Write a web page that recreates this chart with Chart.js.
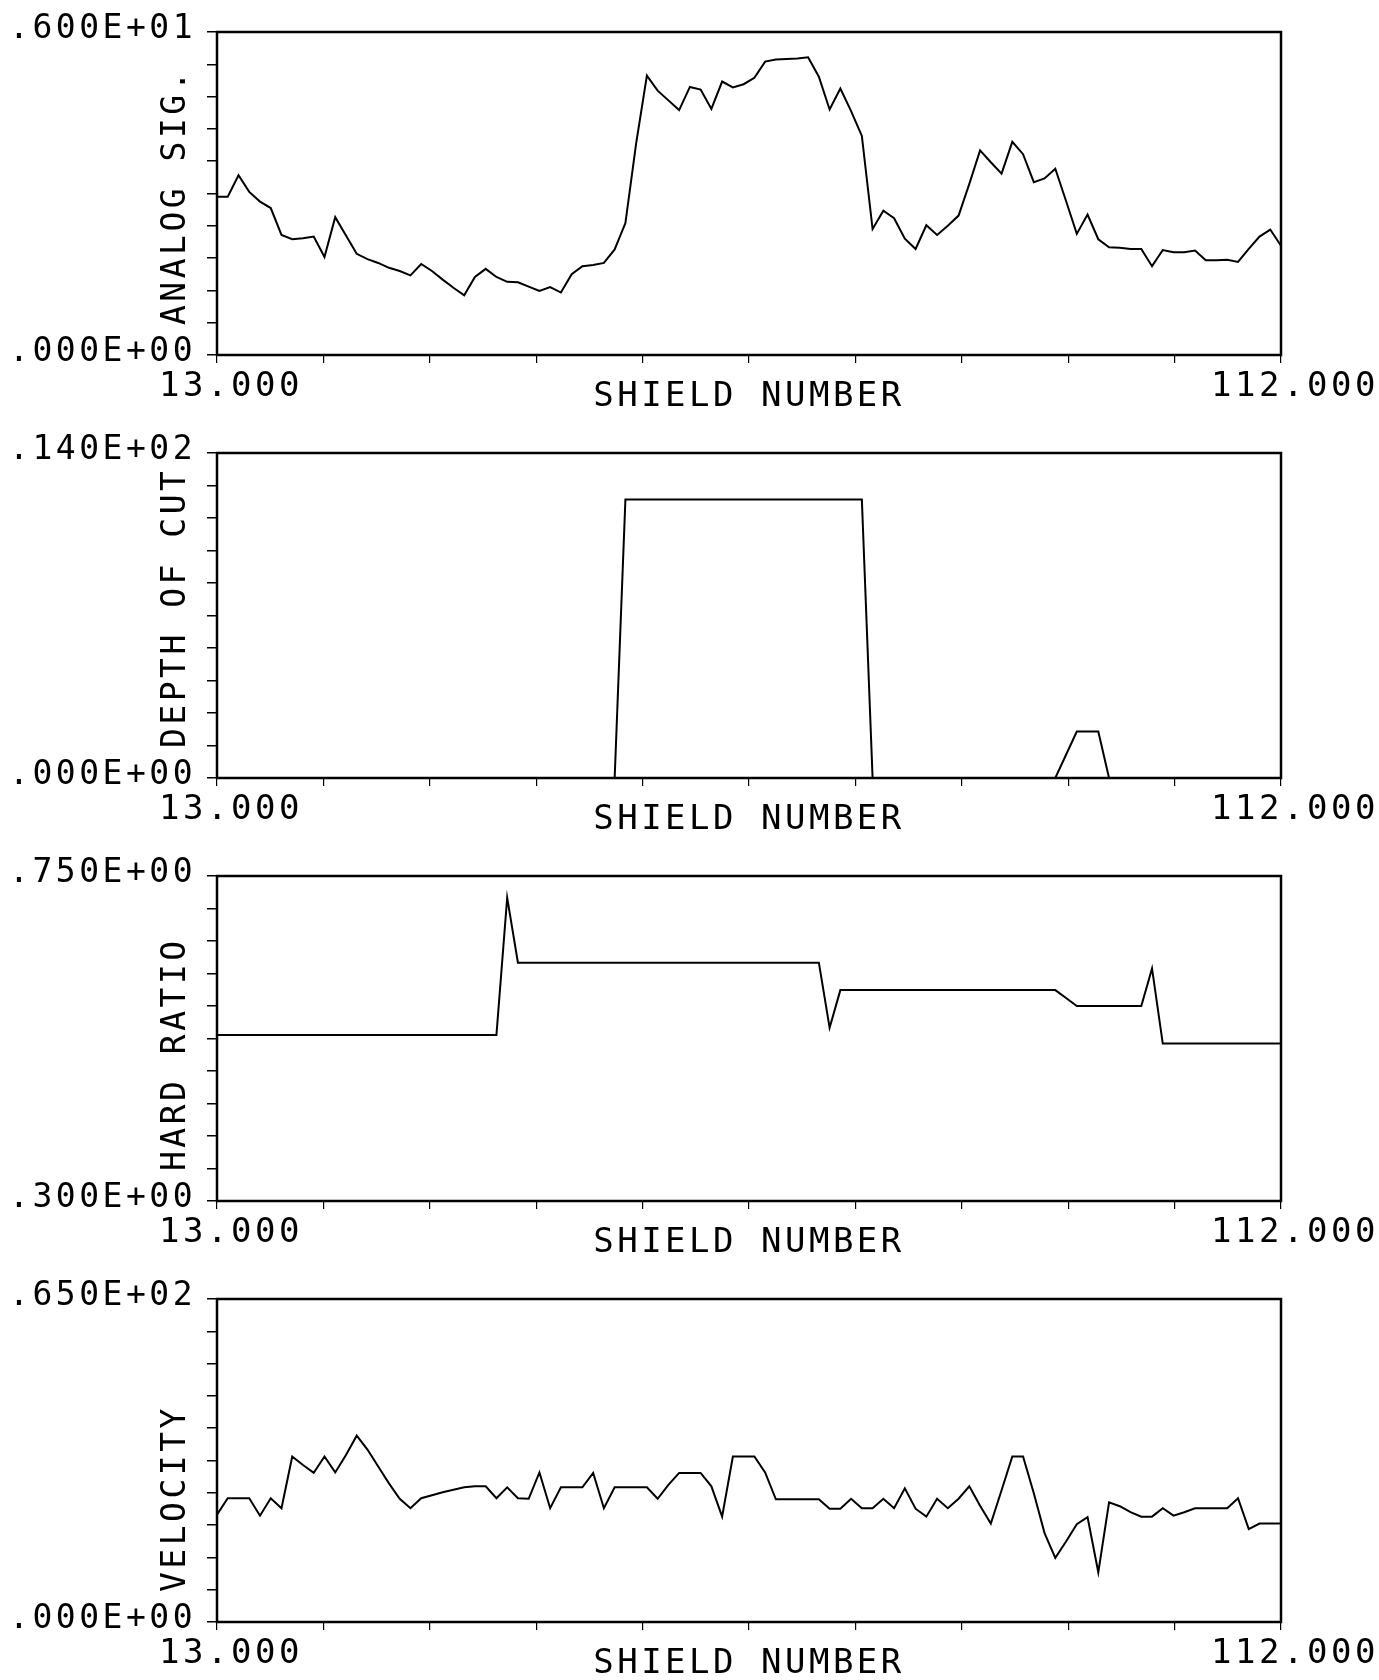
<!DOCTYPE html>
<html>
<head>
<meta charset="utf-8">
<title>Shield plots</title>
<script src="https://cdn.jsdelivr.net/npm/chart.js@4.4.1/dist/chart.umd.min.js"></script>
<style>
  html, body { margin: 0; padding: 0; background: #fff; }
  body { width: 1379px; height: 1680px; overflow: hidden; position: relative; }
  canvas { position: absolute; left: 0; }
</style>
</head>
<body>
<canvas id="analog" width="1379" height="422" style="top:0px"></canvas>
<canvas id="depth" width="1379" height="422" style="top:422px"></canvas>
<canvas id="hard" width="1379" height="422" style="top:845px"></canvas>
<canvas id="velocity" width="1379" height="422" style="top:1268px"></canvas>
<script>
const shields = [
  13, 14, 15, 16, 17, 18, 19, 20, 21, 22,
  23, 24, 25, 26, 27, 28, 29, 30, 31, 32,
  33, 34, 35, 36, 37, 38, 39, 40, 41, 42,
  43, 44, 45, 46, 47, 48, 49, 50, 51, 52,
  53, 54, 55, 56, 57, 58, 59, 60, 61, 62,
  63, 64, 65, 66, 67, 68, 69, 70, 71, 72,
  73, 74, 75, 76, 77, 78, 79, 80, 81, 82,
  83, 84, 85, 86, 87, 88, 89, 90, 91, 92,
  93, 94, 95, 96, 97, 98, 99, 100, 101, 102,
  103, 104, 105, 106, 107, 108, 109, 110, 111, 112
];

const analogSig = [
  2.94, 2.94, 3.34, 3.03, 2.85, 2.73, 2.23, 2.15, 2.17, 2.20,
  1.82, 2.56, 2.22, 1.88, 1.78, 1.71, 1.62, 1.56, 1.48, 1.69,
  1.56, 1.40, 1.25, 1.11, 1.45, 1.60, 1.45, 1.36, 1.35, 1.27,
  1.19, 1.26, 1.16, 1.50, 1.65, 1.67, 1.71, 1.96, 2.45, 3.93,
  5.19, 4.91, 4.73, 4.55, 4.98, 4.93, 4.57, 5.08, 4.97, 5.03,
  5.15, 5.45, 5.49, 5.50, 5.51, 5.53, 5.17, 4.56, 4.95, 4.53,
  4.07, 2.34, 2.68, 2.54, 2.16, 1.97, 2.41, 2.23, 2.40, 2.59,
  3.18, 3.80, 3.58, 3.37, 3.96, 3.73, 3.21, 3.28, 3.46, 2.86,
  2.25, 2.61, 2.15, 2.00, 1.99, 1.97, 1.97, 1.65, 1.95, 1.91,
  1.91, 1.94, 1.76, 1.76, 1.77, 1.73, 1.97, 2.20, 2.33, 2.03
];

const depthOfCut = [
  0, 0, 0, 0, 0, 0, 0, 0, 0, 0,
  0, 0, 0, 0, 0, 0, 0, 0, 0, 0,
  0, 0, 0, 0, 0, 0, 0, 0, 0, 0,
  0, 0, 0, 0, 0, 0, 0, 0, 12, 12,
  12, 12, 12, 12, 12, 12, 12, 12, 12, 12,
  12, 12, 12, 12, 12, 12, 12, 12, 12, 12,
  12, 0, 0, 0, 0, 0, 0, 0, 0, 0,
  0, 0, 0, 0, 0, 0, 0, 0, 0, 1,
  2, 2, 2, 0, 0, 0, 0, 0, 0, 0,
  0, 0, 0, 0, 0, 0, 0, 0, 0, 0
];

const hardRatio = [
  0.53, 0.53, 0.53, 0.53, 0.53, 0.53, 0.53, 0.53, 0.53, 0.53,
  0.53, 0.53, 0.53, 0.53, 0.53, 0.53, 0.53, 0.53, 0.53, 0.53,
  0.53, 0.53, 0.53, 0.53, 0.53, 0.53, 0.53, 0.72, 0.63, 0.63,
  0.63, 0.63, 0.63, 0.63, 0.63, 0.63, 0.63, 0.63, 0.63, 0.63,
  0.63, 0.63, 0.63, 0.63, 0.63, 0.63, 0.63, 0.63, 0.63, 0.63,
  0.63, 0.63, 0.63, 0.63, 0.63, 0.63, 0.63, 0.54, 0.592, 0.592,
  0.592, 0.592, 0.592, 0.592, 0.592, 0.592, 0.592, 0.592, 0.592, 0.592,
  0.592, 0.592, 0.592, 0.592, 0.592, 0.592, 0.592, 0.592, 0.592, 0.581,
  0.57, 0.57, 0.57, 0.57, 0.57, 0.57, 0.57, 0.622, 0.518, 0.518,
  0.518, 0.518, 0.518, 0.518, 0.518, 0.518, 0.518, 0.518, 0.518, 0.518
];

const velocity = [
  21.6, 24.9, 24.9, 24.9, 21.4, 24.9, 22.9, 33.3, 31.6, 30.0,
  33.3, 30.1, 33.6, 37.5, 34.7, 31.3, 27.9, 24.8, 22.9, 24.9,
  25.5, 26.1, 26.6, 27.1, 27.3, 27.3, 24.9, 27.1, 24.9, 24.8,
  30.1, 22.9, 27.1, 27.1, 27.1, 30.0, 22.9, 27.1, 27.1, 27.1,
  27.1, 24.8, 27.6, 30.0, 30.0, 30.0, 27.3, 21.2, 33.3, 33.3,
  33.3, 30.1, 24.7, 24.7, 24.7, 24.7, 24.7, 22.8, 22.8, 24.8,
  22.9, 22.9, 24.8, 22.9, 26.9, 22.8, 21.2, 24.8, 22.9, 24.8,
  27.3, 23.4, 19.8, 26.5, 33.3, 33.3, 25.9, 17.9, 12.9, 16.2,
  19.7, 21.1, 10.0, 24.1, 23.3, 22.1, 21.2, 21.2, 22.9, 21.4,
  22.1, 22.9, 22.9, 22.9, 22.9, 24.9, 18.7, 19.8, 19.8, 19.8
];

const xTickLabels = ['13.000', '112.000'];
const analogTicks = ['.000E+00', '.600E+01'];
const depthTicks = ['.000E+00', '.140E+02'];
const hardTicks = ['.300E+00', '.750E+00'];
const velocityTicks = ['.000E+00', '.650E+02'];

const FONT = "'DejaVu Sans Mono', monospace";

// plotter look: wide lettering, boxed frame, y title written upward from the bottom
const penPlot = {
  id: 'penPlot',
  beforeDraw(chart) {
    chart.ctx.letterSpacing = '3.5px';
  },
  afterDraw(chart) {
    const { ctx, chartArea: a } = chart;
    ctx.save();
    ctx.strokeStyle = '#000';
    ctx.lineWidth = 2.5;
    ctx.strokeRect(a.left, a.top, a.right - a.left, a.bottom - a.top);
    ctx.translate(176, a.bottom - 30);
    ctx.rotate(-Math.PI / 2);
    ctx.font = '33px ' + FONT;
    ctx.fillStyle = '#000';
    ctx.textAlign = 'left';
    ctx.textBaseline = 'middle';
    ctx.fillText(chart.options.scales.y.title.text, 0, 0);
    ctx.restore();
  }
};

const endLabel = (labels) => (v, i, arr) =>
  i === 0 ? labels[0] : (i === arr.length - 1 ? labels[1] : '');

function drawPanel(id, values, yMin, yMax, yTicks, yTitle, padTop, plotH) {
  new Chart(document.getElementById(id), {
    type: 'line',
    data: {
      labels: shields,
      datasets: [{
        data: values,
        borderColor: '#000',
        borderWidth: 2,
        pointRadius: 0,
        tension: 0,
        fill: false
      }]
    },
    options: {
      responsive: false,
      animation: false,
      events: [],
      layout: { padding: { top: padTop, right: 98, bottom: 422 - padTop - plotH - 66, left: 0 } },
      plugins: { legend: { display: false }, tooltip: { enabled: false } },
      scales: {
        x: {
          type: 'linear',
          min: 13,
          max: 112,
          afterFit: (s) => { s.height = 66; },
          grid: { drawOnChartArea: false, tickLength: 8, color: '#000', lineWidth: 1.2 },
          border: { display: false },
          ticks: {
            count: 11,
            autoSkip: false,
            maxRotation: 0,
            minRotation: 0,
            padding: 4,
            labelOffset: 14,
            color: '#000',
            font: { family: FONT, size: 34 },
            callback: endLabel(xTickLabels)
          },
          title: {
            display: true,
            text: 'SHIELD NUMBER',
            color: '#000',
            font: { family: FONT, size: 34 },
            padding: { top: 0, bottom: 3 }
          }
        },
        y: {
          min: yMin,
          max: yMax,
          afterFit: (s) => { s.width = 217; },
          grid: { drawOnChartArea: false, tickLength: 10, color: '#000', lineWidth: 1.5 },
          border: { display: false },
          ticks: {
            count: 11,
            autoSkip: false,
            padding: 11,
            labelOffset: -3,
            color: '#000',
            font: { family: FONT, size: 33 },
            callback: endLabel(yTicks)
          },
          title: { display: false, text: yTitle }
        }
      }
    },
    plugins: [penPlot]
  });
}

drawPanel('analog', analogSig, 0, 6, analogTicks, 'ANALOG SIG.', 32, 323);
drawPanel('depth', depthOfCut, 0, 14, depthTicks, 'DEPTH OF CUT', 31, 325);
drawPanel('hard', hardRatio, 0.3, 0.75, hardTicks, 'HARD RATIO', 31, 325);
drawPanel('velocity', velocity, 0, 65, velocityTicks, 'VELOCITY', 31, 323);
</script>
</body>
</html>
